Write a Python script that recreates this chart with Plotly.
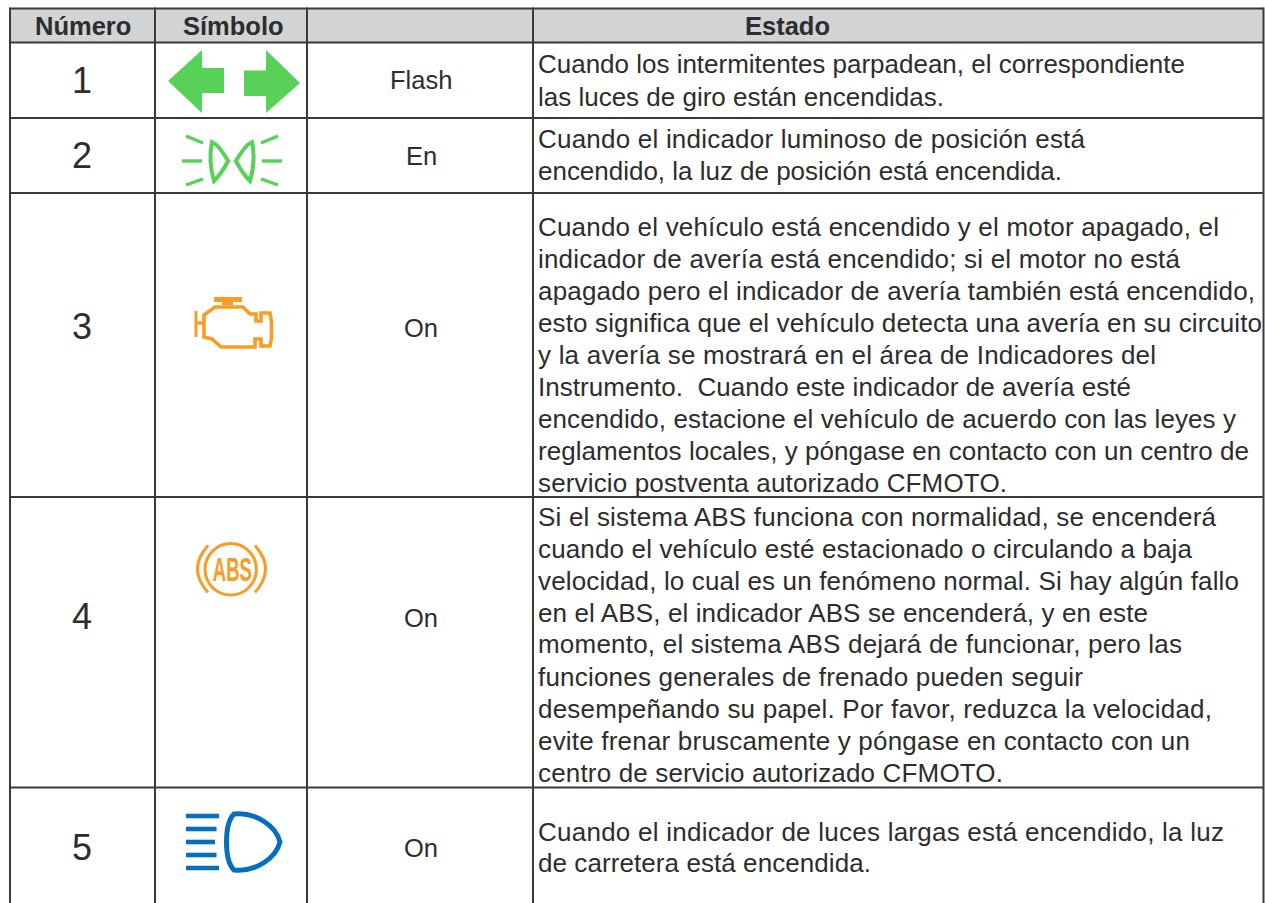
import json
import plotly.graph_objects as go

# ---------- table content ----------
HEADERS = ["Número", "Símbolo", "Estado"]
NUMBERS = ["1", "2", "3", "4", "5"]
STATES = ["Flash", "En", "On", "On", "On"]
DESCRIPTIONS = [
    ["Cuando los intermitentes parpadean, el correspondiente",
     "las luces de giro están encendidas."],
    ["Cuando el indicador luminoso de posición está",
     "encendido, la luz de posición está encendida."],
    ["Cuando el vehículo está encendido y el motor apagado, el",
     "indicador de avería está encendido; si el motor no está",
     "apagado pero el indicador de avería también está encendido,",
     "esto significa que el vehículo detecta una avería en su circuito",
     "y la avería se mostrará en el área de Indicadores del",
     "Instrumento.  Cuando este indicador de avería esté",
     "encendido, estacione el vehículo de acuerdo con las leyes y",
     "reglamentos locales, y póngase en contacto con un centro de",
     "servicio postventa autorizado CFMOTO."],
    ["Si el sistema ABS funciona con normalidad, se encenderá",
     "cuando el vehículo esté estacionado o circulando a baja",
     "velocidad, lo cual es un fenómeno normal. Si hay algún fallo",
     "en el ABS, el indicador ABS se encenderá, y en este",
     "momento, el sistema ABS dejará de funcionar, pero las",
     "funciones generales de frenado pueden seguir",
     "desempeñando su papel. Por favor, reduzca la velocidad,",
     "evite frenar bruscamente y póngase en contacto con un",
     "centro de servicio autorizado CFMOTO."],
    ["Cuando el indicador de luces largas está encendido, la luz",
     "de carretera está encendida."],
]

# ---------- geometry ----------
W, H = 1265, 903
COL_X = [10, 155, 307, 533, 1263.5]
ROW_Y = [8.5, 42.5, 118, 193, 497, 787.5, 903]
NUM_CY = [80, 155, 326, 616, 847]
STATE_CY = [80, 156, 328, 618, 848]
DESC_Y = [[64, 97], [139, 171],
          [227, 259, 291, 323, 355, 387, 419, 451, 483],
          [517, 549, 581, 613, 644, 677, 709, 741, 773],
          [832, 863]]
DESC_END = [[1185, 944], [1085, 1062],
            [1219, 1180, 1255, 1262, 1156, 1131, 1236, 1249, 1007],
            [1216, 1192, 1239, 1148, 1182, 1083, 1212, 1190, 1003],
            [1224, 871]]
DESC_LEFT = 538
INK = "#2D2D2D"
LINE = "#3A3A3A"
HEAD_BG = "#D1D3D4"
GREEN = "#57D157"
ORANGE = "#F99B25"
BLUE = "#0470BC"
FONT = "Liberation Sans"


def path(points, close=False):
    d = "M" + " L".join(f"{x},{y}" for x, y in points)
    return d + (" Z" if close else "")


shapes = []


def add(d, fill=None, stroke=None, width=0):
    s = dict(type="path", path=d, xref="x", yref="y", layer="above",
             line=dict(color=stroke or "rgba(0,0,0,0)", width=width))
    if fill:
        s["fillcolor"] = fill
    shapes.append(s)


# header band
shapes.append(dict(type="rect", x0=COL_X[0], x1=COL_X[-1], y0=ROW_Y[0], y1=ROW_Y[1],
                   fillcolor=HEAD_BG, line=dict(width=0), layer="below"))
# grid
for i, x in enumerate(COL_X):
    shapes.append(dict(type="line", x0=x, x1=x, y0=ROW_Y[0] - 1, y1=ROW_Y[-1],
                       line=dict(color=LINE, width=2)))
for y in ROW_Y[:-1]:
    shapes.append(dict(type="line", x0=COL_X[0], x1=COL_X[-1], y0=y, y1=y,
                       line=dict(color=LINE, width=2)))

# turn signals
ARROW_L = [(168, 81), (202, 50), (202, 68), (224, 68), (224, 93), (202, 93), (202, 113)]
ARROW_R = [(244, 70.5), (266, 70.5), (266, 50), (300, 83), (266, 113), (266, 96), (244, 96)]
add(path(ARROW_L, True), fill=GREEN)
add(path(ARROW_R, True), fill=GREEN)

# position lamp
RAYS = [[(186, 136), (203, 143)], [(182, 161), (202, 161)], [(186, 185), (203, 179)],
        [(278, 136), (261, 143)], [(262, 161), (282, 161)], [(261, 179), (278, 185)]]
for r in RAYS:
    add(path(r), stroke=GREEN, width=3.4)
add("M212,142 Q219,145 228,161 Q222,173 214,181 Q208,161 212,142 Z", stroke=GREEN, width=4)
add("M252,142 Q245,145 236,161 Q242,173 250,181 Q256,161 252,142 Z", stroke=GREEN, width=4)

# engine
add(path([(214, 297), (242, 297), (242, 302), (233, 302), (233, 305), (222, 305), (222, 302), (214, 302)], True), fill=ORANGE)
ENGINE = [(204, 315), (215, 307), (243, 307), (250, 314), (256, 314), (256, 321), (261, 321), (261, 313),
          (270, 313), (271.5, 322), (271.5, 338), (270, 346), (261, 346), (261, 339), (255, 339), (255, 347),
          (221, 347), (212, 339), (204, 337)]
add(path(ENGINE, True), stroke=ORANGE, width=3.6)
add(path([(196, 323), (204, 323)]), stroke=ORANGE, width=3.4)
add(path([(196, 311), (196, 337)]), stroke=ORANGE, width=3)

# ABS lamp
shapes.append(dict(type="circle", x0=205, x1=256.4, y0=543.6, y1=595, xref="x", yref="y",
                   line=dict(color=ORANGE, width=3)))
add("M208,545.5 Q187,569 208,592.5", stroke=ORANGE, width=3)
add("M255,545.5 Q276,569 255,592.5", stroke=ORANGE, width=3)

# high beam
BEAM_Y = [816, 829, 842, 855, 868]
BEAM_X = [219, 216.5, 215, 216.5, 219]
for y, x in zip(BEAM_Y, BEAM_X):
    add(path([(186, y), (x, y)]), stroke=BLUE, width=4.6)
add("M234,814 C256,812 276,826 280,842 C276,858 256,872 234,870 C224,860 224,824 234,814 Z",
    stroke=BLUE, width=5)

# ---------- text ----------
ann = []


def text(x, y, s, size, anchor="center", bold=False, color=INK):
    ann.append(dict(x=x, y=y, text=f"<b>{s}</b>" if bold else s, showarrow=False, xref="x", yref="y",
                    xanchor=anchor, yanchor="middle", borderpad=0,
                    font=dict(family=FONT, size=size, color=color)))


HEAD_CX = [82.5, 233.5, 787]
for h, x in zip(HEADERS, HEAD_CX):
    text(x, 25.5, h, 25.5, bold=True)
for n, y in zip(NUMBERS, NUM_CY):
    text(82, y, n, 36)
for s, y in zip(STATES, STATE_CY):
    text(421, y, s, 25.5)
spans = {}
for lines, ys, ends in zip(DESCRIPTIONS, DESC_Y, DESC_END):
    for s, y, e in zip(lines, ys, ends):
        text(DESC_LEFT, y, s, 26, anchor="left")
        spans[s] = [DESC_LEFT, e]
text(232.5, 569, "ABS", 24, bold=True, color=ORANGE)

fig = go.Figure()
fig.update_layout(
    width=W, height=H, margin=dict(l=0, r=0, t=0, b=0),
    paper_bgcolor="white", plot_bgcolor="white", showlegend=False,
    xaxis=dict(range=[0, W], visible=False, fixedrange=True),
    yaxis=dict(range=[H, 0], visible=False, fixedrange=True),
    shapes=shapes, annotations=ann,
)

POST = """
document.body.style.margin='0';document.body.style.overflow='hidden';
var spans = %s;
document.querySelectorAll('.annotation-text').forEach(function(el){
  var t = el.textContent;
  if (spans[t]) {
    el.setAttribute('lengthAdjust','spacing');
    el.setAttribute('textLength', spans[t][1]-spans[t][0]);
    var r = el.getBoundingClientRect();
    el.setAttribute('x', parseFloat(el.getAttribute('x')||0) + spans[t][0] - r.left);
  } else if (t === 'ABS') {
    var b = el.getBBox(), cx = b.x+b.width/2, cy = b.y+b.height/2;
    var sx = 39/b.width, sy = 1.4;
    el.setAttribute('transform', (el.getAttribute('transform')||'') +
      ' translate('+cx+','+cy+') scale('+sx+','+sy+') translate('+(-cx)+','+(-cy)+')');
  }
});
""" % json.dumps(spans, ensure_ascii=False)

fig.write_html("out.html", config=dict(displayModeBar=False), post_script=POST)
